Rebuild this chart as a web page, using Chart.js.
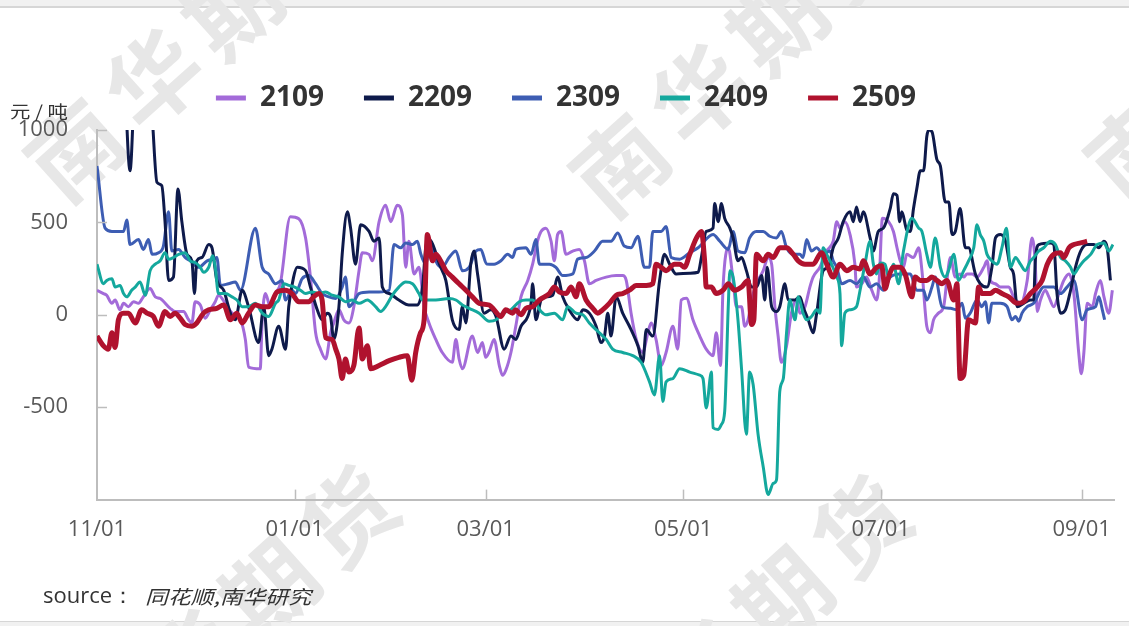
<!DOCTYPE html>
<html><head><meta charset="utf-8">
<script src="https://cdn.jsdelivr.net/npm/chart.js@4.4.0/dist/chart.umd.min.js"></script>
<style>html,body{margin:0;padding:0;background:#fff}#wrap{width:1129px;height:626px;position:relative}</style>
</head><body><div id="wrap"><canvas id="c"></canvas></div>
<script>
// x = days since 11/01
const TICK_DAYS = [0, 61, 120, 181, 242, 304];
const TICK_LABELS = ['11/01', '01/01', '03/01', '05/01', '07/01', '09/01'];
const SERIES_NAMES = ['2109', '2209', '2309', '2409', '2509'];
const Y_TICKS = [1000, 500, 0, -500];

const S2109 = [[0,133],[2,115],[3,106],[4.6,62],[5.6,80],[7.1,27],[8.2,62],[9.7,44],[11.3,71],[12.8,62],[14.3,97],[16.4,142],[18,97],[19.5,88],[22.6,35],[24.1,18],[26.7,18],[28.3,-27],[29.3,-44],[30.3,71],[31.9,53],[33.4,-18],[35,27],[36.5,71],[37.5,106],[39.6,62],[41.7,9],[44.3,-27],[45.8,-133],[46.8,-283],[50.4,-292],[51,-27],[52,115],[53.5,44],[55.1,115],[56.6,168],[59.7,531],[62.3,520],[64.4,416],[65.9,204],[67.5,-97],[69,-186],[70.6,-239],[72.1,-97],[73.1,-44],[74.7,27],[76.2,-27],[77.8,-44],[79.3,44],[80.9,239],[81.9,336],[84,327],[85,292],[87.1,504],[89.1,593],[90.7,504],[92.7,593],[94.3,540],[95.3,257],[96.3,398],[97.9,221],[99.4,257],[101,44],[102.5,-44],[104.6,-133],[106.6,-204],[109.7,-257],[110.8,-133],[111.8,-239],[112.8,-292],[115.9,-115],[117.5,-204],[119,-150],[120,-230],[121.1,-200],[122.6,-133],[124.2,-274],[125.2,-327],[126.2,-301],[127.8,-204],[129.3,-62],[130.9,97],[133,186],[134.5,274],[136,398],[137.1,451],[138.6,469],[140.2,398],[141.2,292],[142.2,434],[143.3,451],[144.8,327],[146.9,345],[148.9,354],[150.5,292],[152,168],[154.1,186],[157.2,204],[160.3,212],[162.3,212],[163.4,186],[164.9,9],[166.5,-133],[168.5,-204],[170.1,-97],[171.1,-44],[172.6,-133],[174.2,-274],[175.7,-204],[177.8,-62],[179.3,-186],[180.4,80],[182,90],[184,-27],[186.1,-115],[188.1,-186],[190.2,-221],[191.2,-97],[192.5,-274],[193.3,150],[194.9,363],[196.4,186],[197.4,44],[199,44],[200,-62],[201,-27],[202.6,115],[204.1,186],[205.7,239],[207.2,310],[208.3,274],[209.3,44],[210.3,-115],[211.3,-257],[212.9,-168],[214.4,9],[216,80],[217,9],[218.6,44],[220.1,150],[221.1,204],[223.2,257],[225.3,345],[227.3,398],[228.4,504],[229.4,469],[230.9,504],[232.5,434],[234,274],[234.5,150],[236.1,168],[237.6,204],[239.2,133],[240.7,80],[241.5,186],[242.5,522],[244.4,504],[245.9,451],[247,363],[248,292],[249,257],[250,327],[252.1,310],[253.7,363],[254.7,239],[256.2,-62],[257.3,-97],[258.3,-27],[259.8,9],[261.4,44],[262.4,186],[263.5,310],[265,204],[266.5,221],[267.6,204],[268.6,221],[270.2,221],[271.7,204],[273.8,257],[274.8,292],[275.8,186],[277.4,168],[278.9,150],[281.5,150],[283,97],[285.1,62],[287.2,186],[288.7,416],[289.7,274],[290.3,18],[291.3,80],[292.8,133],[293.9,97],[295.4,44],[297,115],[298.5,186],[300.1,221],[301.6,115],[303.1,-204],[303.9,-319],[304.7,-204],[305.7,62],[307.3,44],[308.3,115],[309.8,186],[310.9,97],[312.4,9],[313.5,133]];

const S2209 = [[8.5,1300],[10.2,779],[11.8,1300],[14,1400],[16.9,1100],[18.5,717],[20,699],[21,504],[22.1,186],[23.6,204],[25,681],[26.2,504],[27.8,327],[29.3,292],[30.1,115],[30.8,292],[32.4,310],[34.5,380],[35.5,363],[37,186],[39.1,133],[41.2,9],[42.7,-27],[44.8,133],[46.8,44],[49.9,-150],[51.5,44],[53,-221],[54,-186],[56.1,-62],[58.2,-186],[59.2,44],[60.7,204],[61.8,257],[64.4,239],[65.9,150],[68,27],[69.5,-27],[71.1,9],[72.1,-9],[73.1,-133],[74.7,44],[75.7,327],[77.3,557],[78.3,469],[79.8,274],[81.4,487],[84,451],[85.5,398],[87.1,416],[88.1,150],[90.2,115],[93.2,80],[96.3,53],[98.9,53],[100.5,150],[101.5,363],[102.5,407],[106.1,257],[107.7,186],[109.7,-27],[111.8,-80],[112.8,44],[113.9,-44],[115.4,274],[116.4,345],[117.5,221],[119.5,9],[121.6,27],[123.2,-9],[125.7,-186],[127.8,-115],[129.3,-133],[130.9,-62],[133,-9],[134,62],[134.5,168],[135.5,-27],[137.1,80],[138.6,97],[140.7,106],[142.2,204],[143.8,97],[145.8,27],[148.4,-27],[150,27],[152,9],[154.1,-62],[155.6,-150],[156.7,-115],[157.7,9],[158.7,-115],[160.3,97],[162.3,9],[164.4,-62],[167,-168],[168.5,-257],[169.6,-80],[171.6,-115],[173.7,186],[175.2,327],[176.8,274],[178.8,221],[183,225],[185.6,230],[186.6,310],[188.1,451],[190.2,469],[190.7,602],[191.8,504],[192.8,602],[193.8,522],[195.4,469],[196.4,416],[197.9,292],[199,310],[200.5,239],[202.1,150],[203.6,150],[205.2,212],[206.2,80],[206.9,257],[208.3,44],[209.8,18],[210.8,44],[212.4,168],[213.4,80],[215.5,80],[217,97],[218,44],[219.6,-27],[221.1,-97],[222.2,9],[224.2,239],[225.8,257],[227.3,363],[228.9,416],[230.4,504],[232.5,557],[233.5,504],[234.5,584],[235.6,504],[236.6,557],[238.7,416],[239.7,345],[241.2,451],[242.8,469],[244.9,575],[245.9,655],[247,646],[247.8,504],[248.5,557],[250,460],[251.1,451],[252.1,575],[253.1,681],[254.2,779],[255.2,779],[256.2,965],[256.8,1000],[257.8,990],[259.3,841],[260.4,805],[261.9,611],[263,611],[264,434],[265,451],[266.5,575],[268.1,363],[269.1,363],[271.2,221],[272.7,168],[274.8,150],[276.3,257],[277.4,416],[278.9,434],[280.5,398],[282,257],[283,221],[284.1,44],[286.1,62],[288.2,80],[289.2,80],[289.7,292],[290.8,380],[294.4,389],[295.4,380],[296.4,115],[297.5,9],[299,27],[300.6,133],[302.1,257],[303.7,345],[305.7,380],[307.8,380],[309.3,363],[310.9,398],[311.9,363],[312.9,186]];

const S2309 = [[0,805],[2.5,469],[4.6,451],[8.2,451],[9.2,513],[10.2,380],[12.8,407],[14.3,354],[15.9,407],[17,327],[19,336],[20.5,372],[22.1,557],[23.1,345],[25.2,354],[27.2,310],[28.8,292],[31.4,257],[34,292],[36,301],[37,310],[38.1,159],[40.6,168],[42.7,177],[44.3,133],[48.9,469],[51,257],[53,221],[55.1,168],[57.1,186],[58.2,80],[60.2,133],[61.3,115],[63.3,195],[65.4,212],[67.5,168],[69.5,115],[71.6,97],[73.7,88],[75.7,150],[76.7,204],[77.8,44],[79.3,71],[80.9,115],[84,124],[87.1,124],[90.2,133],[91.7,380],[93.8,363],[95.3,389],[97.4,380],[98.9,398],[100,327],[101.5,274],[103,398],[104.6,292],[106.6,257],[108.7,310],[110.8,345],[112.8,239],[114.9,257],[117,345],[118.5,354],[120.3,275],[122.6,274],[124.7,292],[126.8,327],[128.3,310],[129.3,354],[132.4,363],[134,327],[135.5,407],[136.6,274],[139.7,274],[141.7,257],[143.8,212],[146.9,221],[148.4,301],[151,310],[153.6,345],[156.1,398],[158.7,398],[160.8,442],[162.8,372],[164.9,363],[167,425],[169,257],[170.6,257],[171.6,451],[174.2,451],[175.7,478],[177.3,310],[179.9,301],[183,336],[185.6,363],[190.2,434],[192.3,398],[194.9,354],[196.4,451],[197.9,345],[200,336],[201.5,416],[203.6,451],[205.7,451],[207.7,425],[209.8,416],[211.3,451],[212.9,363],[215,327],[217,327],[218,310],[219.1,407],[220.6,345],[222.2,363],[224.2,327],[226.3,345],[227.3,292],[228.4,257],[229.9,168],[232.5,186],[234.5,168],[236.6,204],[238.7,150],[240.7,168],[242.8,133],[244.9,204],[248,221],[251.1,221],[253.1,133],[255.2,133],[256.2,80],[257.8,150],[258.8,204],[260.9,44],[263.5,35],[265.5,27],[267.1,62],[268.1,-18],[269.6,9],[271.7,80],[273.2,44],[274.3,71],[275.3,-44],[276.3,62],[278.9,62],[281,44],[282.5,-27],[283.6,-9],[284.6,-35],[285.6,9],[287.2,44],[289.2,62],[292.3,150],[295.4,150],[297.5,115],[299.5,150],[301.6,186],[304.2,-27],[305.7,27],[308.3,44],[309.3,97],[310.4,27],[311.1,-27]];

const S2409 = [[0,274],[2,168],[3,186],[4.6,195],[5.6,150],[7.1,159],[8.2,115],[9.2,97],[10.7,133],[11.8,150],[13.3,177],[14.9,106],[16.4,239],[18,274],[19.5,292],[21,336],[22.1,301],[23.6,310],[25.2,327],[27.2,336],[28.8,292],[30.3,283],[31.9,257],[32.9,230],[34.5,257],[35.7,319],[36.5,257],[37.5,115],[39.6,115],[41.7,97],[43.2,80],[44.8,44],[46.8,44],[48.9,62],[51,9],[53,-9],[55.1,62],[56.1,80],[57.7,168],[59.2,159],[61,150],[62.8,133],[64.4,115],[66.4,124],[68.5,115],[70.6,124],[72.6,106],[74.7,97],[76.7,71],[78.8,80],[80.9,62],[83.5,80],[86,44],[87.6,18],[89.1,44],[91.2,106],[93.2,150],[95.3,177],[97.4,168],[99.4,115],[100.5,80],[104.6,80],[108.7,88],[110.8,80],[112.8,53],[114.9,35],[118,9],[121.1,-35],[123.2,-27],[125.2,9],[127.8,27],[130.4,71],[132.4,80],[134.5,80],[137.1,18],[138.6,0],[141.2,9],[143.8,-27],[145.3,44],[147.9,9],[150,0],[152,-44],[155.1,-97],[157.2,-133],[159.2,-186],[162.3,-204],[165.4,-221],[168,-257],[170.6,-363],[172.1,-434],[173.7,-221],[174.7,-469],[175.7,-363],[177.8,-345],[179.9,-292],[183,-310],[186.1,-327],[187.1,-345],[188.1,-504],[189.7,-310],[190.2,-611],[191.8,-620],[192.8,-593],[193.8,-522],[194.9,44],[195.4,239],[196.4,204],[197.9,-27],[199,-292],[200.5,-646],[201.5,-310],[202.6,-380],[204.1,-646],[205.7,-823],[207.2,-973],[208.8,-912],[209.8,-893],[210.8,-416],[211.9,-345],[212.9,-97],[213.9,80],[215.5,-27],[216.5,97],[218,9],[219.1,-27],[220.6,-9],[222.2,27],[223.2,9],[224.2,363],[225.3,327],[226.8,274],[228.4,204],[229.4,115],[229.9,-168],[230.9,9],[232.5,27],[234.5,44],[235.6,133],[237.1,274],[238.7,398],[239.7,274],[240.7,221],[241.8,280],[243.3,274],[244.4,204],[245.9,274],[247.5,168],[249,345],[251.6,522],[253.7,469],[254.7,451],[256.2,327],[257.3,257],[258.8,416],[260.4,257],[261.9,204],[262.9,239],[264.5,327],[266,186],[267.6,239],[269.1,292],[270.7,363],[271.7,487],[272.7,434],[273.8,398],[274.8,327],[276.3,292],[277.9,274],[279.4,363],[280.8,469],[282,257],[283.6,310],[285.1,274],[286.6,239],[288.2,292],[289.2,310],[290.8,345],[292.3,363],[294.4,398],[295.9,380],[297.5,310],[299,292],[300.6,257],[301.6,221],[303.1,257],[304.7,292],[306.8,327],[308.8,380],[310.9,389],[312.4,345],[313.7,380]];

const S2509 = [[0,-115],[2,-168],[3.5,-186],[4.6,-97],[5.6,-177],[6.6,-27],[8.2,9],[9.7,9],[11.8,-44],[13.8,27],[15.4,9],[17.4,-9],[19,-62],[21,18],[22.6,-9],[24.1,9],[25.7,-18],[27.2,-53],[29.3,-62],[30.8,-44],[32.9,9],[34.5,27],[37,35],[39.1,53],[41.2,-27],[43.2,9],[44.8,-44],[46.8,9],[48.9,53],[51,44],[53,44],[55.6,124],[58.2,133],[60.2,115],[62.3,71],[65.4,71],[66.9,97],[68.5,115],[69.5,80],[70.6,-124],[72.6,-133],[73.7,-186],[74.7,-239],[75.7,-345],[76.7,-239],[77.8,-310],[79.3,-274],[80.9,-71],[81.9,-239],[83.5,-168],[84.5,-292],[87.1,-274],[90.2,-248],[93.2,-230],[95.8,-221],[97.2,-354],[98.4,-204],[99.9,-97],[101,-27],[102,434],[103.6,292],[104.6,327],[106.1,292],[107.7,239],[109.7,204],[111.8,168],[113.9,133],[115.9,97],[118,62],[121.1,53],[122.6,27],[124.7,-9],[126.2,27],[128.3,9],[129.3,27],[130.9,0],[132.4,35],[134.5,44],[136.6,80],[139.7,115],[141.2,150],[142.7,124],[144.8,115],[146.4,150],[147.9,97],[148.9,168],[151,80],[153.1,35],[154.6,9],[156.1,27],[158.2,62],[160.3,106],[162.3,115],[164.4,133],[166.5,159],[169.6,159],[171.6,168],[172.6,274],[174.2,257],[175.7,239],[178.3,274],[179.9,274],[181.4,257],[183,327],[185.1,416],[186.6,451],[187.6,292],[188.1,150],[189.7,150],[191.2,115],[193.3,133],[194.9,168],[196.9,133],[199,150],[201,186],[202.1,-53],[202.8,-27],[203.6,327],[205.7,292],[207.2,327],[208.8,310],[210.8,363],[212.9,363],[215,327],[216.5,292],[218.6,274],[221.1,274],[223.7,336],[225.3,274],[227.3,204],[229.4,274],[231.5,239],[233.5,257],[235.6,248],[236.6,292],[238.7,221],[240.7,257],[242.3,265],[243.3,140],[244.4,204],[245.9,257],[248,257],[249.5,221],[251.6,97],[252.6,204],[254.2,186],[256.2,186],[257.8,204],[259.3,186],[260.9,168],[262.4,186],[264.5,80],[265.5,168],[266.5,-345],[267.6,-327],[269.1,-27],[271.2,-44],[272.2,150],[273.2,115],[275.8,115],[277.4,133],[279.4,115],[281.5,97],[284.1,62],[286.1,71],[288.2,115],[290.3,150],[291.8,186],[293.4,274],[295.4,327],[297.5,336],[298.5,310],[300.1,363],[301.6,380],[303.7,389],[305.7,398]];

const SERIES_DATA = [S2109, S2209, S2309, S2409, S2509];
const COLORS = ['#a36bd9', '#0e1a4b', '#3d5db3', '#14a89d', '#b0122e'];
const WIDTHS = [3, 3, 3, 3, 5];
const ORDERS = [4, 2, 3, 1, 0];

const FONT = '"Open Sans", "Noto Sans", sans-serif';
const CJK = '"Noto Sans CJK SC", sans-serif';

function stretchText(ctx, text, x, y, font, sx) {
  ctx.save();
  ctx.translate(x, y);
  ctx.scale(sx, 1);
  ctx.font = font;
  ctx.fillText(text, 0, 0);
  ctx.restore();
}

const decor = {
  id: 'decor',
  beforeDraw(chart) {
    const ctx = chart.ctx;
    ctx.save();
    ctx.fillStyle = '#fff';
    ctx.fillRect(0, 0, chart.width, chart.height);
    ctx.fillStyle = '#f1f1f1';
    ctx.fillRect(0, 0, chart.width, 6);
    ctx.fillRect(0, 622, chart.width, 4);
    ctx.fillStyle = '#d6d6d6';
    ctx.fillRect(0, 6, chart.width, 2);
    ctx.fillRect(0, 621, chart.width, 1);
    // watermark
    const chars = ['南', '华', '期', '货'];
    const ang = -42 * Math.PI / 180;
    const step = 106;
    const origins = [[75, 150], [620, 165], [1135, 150], [112, 730], [625, 740]];
    ctx.fillStyle = '#e7e7e7';
    ctx.font = '700 92px ' + CJK;
    ctx.textAlign = 'center';
    ctx.textBaseline = 'middle';
    origins.forEach(([ox, oy]) => {
      chars.forEach((ch, i) => {
        const cx = ox + i * step * Math.cos(ang);
        const cy = oy + i * step * Math.sin(ang);
        ctx.save();
        ctx.translate(cx, cy);
        ctx.rotate(ang);
        ctx.fillText(ch, 0, 0);
        ctx.restore();
      });
    });
    ctx.restore();
  },
  afterDraw(chart) {
    const ctx = chart.ctx;
    const xs = chart.scales.x, ys = chart.scales.y;
    const a = chart.chartArea;
    ctx.save();
    ctx.strokeStyle = '#bdbdbd';
    ctx.lineWidth = 1.5;
    TICK_DAYS.forEach(d => {
      if (d === 0) return;
      const px = Math.round(xs.getPixelForValue(d)) + 0.5;
      ctx.beginPath(); ctx.moveTo(px, a.bottom); ctx.lineTo(px, a.bottom - 10); ctx.stroke();
    });
    Y_TICKS.forEach(v => {
      const py = Math.round(ys.getPixelForValue(v)) + 0.5;
      ctx.beginPath(); ctx.moveTo(a.left, py); ctx.lineTo(a.left + 10, py); ctx.stroke();
    });
    ctx.fillStyle = '#333';
    ctx.textAlign = 'left';
    ctx.textBaseline = 'middle';
    stretchText(ctx, '元 / 吨', 10, 112, '17px ' + CJK, 1.2);
    ctx.font = '22px ' + FONT;
    ctx.fillText('source：', 43, 597);
    stretchText(ctx, '同花顺,南华研究', 145, 597, 'italic 19px ' + CJK, 1.2);
    ctx.restore();
  }
};

const datasets = SERIES_NAMES.map((name, i) => ({
  label: name,
  data: SERIES_DATA[i].map(([d, v]) => ({ x: d, y: v })),
  borderColor: COLORS[i],
  backgroundColor: COLORS[i],
  borderWidth: WIDTHS[i],
  pointRadius: 0,
  pointHoverRadius: 0,
  cubicInterpolationMode: 'monotone',
  fill: false,
  order: ORDERS[i]
}));

new Chart(document.getElementById('c'), {
  type: 'line',
  data: { datasets },
  plugins: [decor],
  options: {
    responsive: true,
    maintainAspectRatio: false,
    animation: false,
    events: [],
    layout: { padding: { top: 44, left: 18, right: 15, bottom: 66 } },
    plugins: {
      tooltip: { enabled: false },
      legend: {
        position: 'top',
        align: 'center',
        labels: {
          boxWidth: 30,
          boxHeight: 5,
          padding: 40,
          color: '#333',
          font: { family: FONT, size: 28, weight: 'bold' },
          generateLabels(chart) {
            return chart.data.datasets.map((ds, i) => ({
              text: ds.label, fillStyle: ds.borderColor, strokeStyle: ds.borderColor,
              lineWidth: 0, hidden: false, datasetIndex: i, fontColor: '#333'
            }));
          }
        }
      }
    },
    scales: {
      x: {
        type: 'linear',
        min: 0, max: 314,
        afterBuildTicks(scale) { scale.ticks = TICK_DAYS.map(v => ({ value: v })); },
        ticks: {
          autoSkip: false, maxRotation: 0, padding: 17,
          color: '#595959', font: { family: FONT, size: 22 },
          callback(v) { const k = TICK_DAYS.indexOf(v); return k >= 0 ? TICK_LABELS[k] : ''; }
        },
        grid: { display: false, drawTicks: false },
        border: { display: true, color: '#bdbdbd', width: 2 }
      },
      xTopGap: {
        type: 'linear', position: 'top', display: true, min: 0, max: 1,
        ticks: { display: false },
        grid: { display: false, drawTicks: false },
        border: { display: false },
        afterFit(scale) { scale.height = 8; }
      },
      y: {
        min: -1000, max: 1000,
        afterBuildTicks(scale) { scale.ticks = [-1000, -500, 0, 500, 1000].map(v => ({ value: v })); },
        afterFit(scale) { scale.width = 79; },
        ticks: {
          padding: 29, color: '#595959', font: { family: FONT, size: 22 },
          callback(v) { return Y_TICKS.includes(v) ? String(v) : ''; }
        },
        grid: { display: false, drawTicks: false },
        border: { display: true, color: '#bdbdbd', width: 2 }
      }
    }
  }
});
</script></body></html>
